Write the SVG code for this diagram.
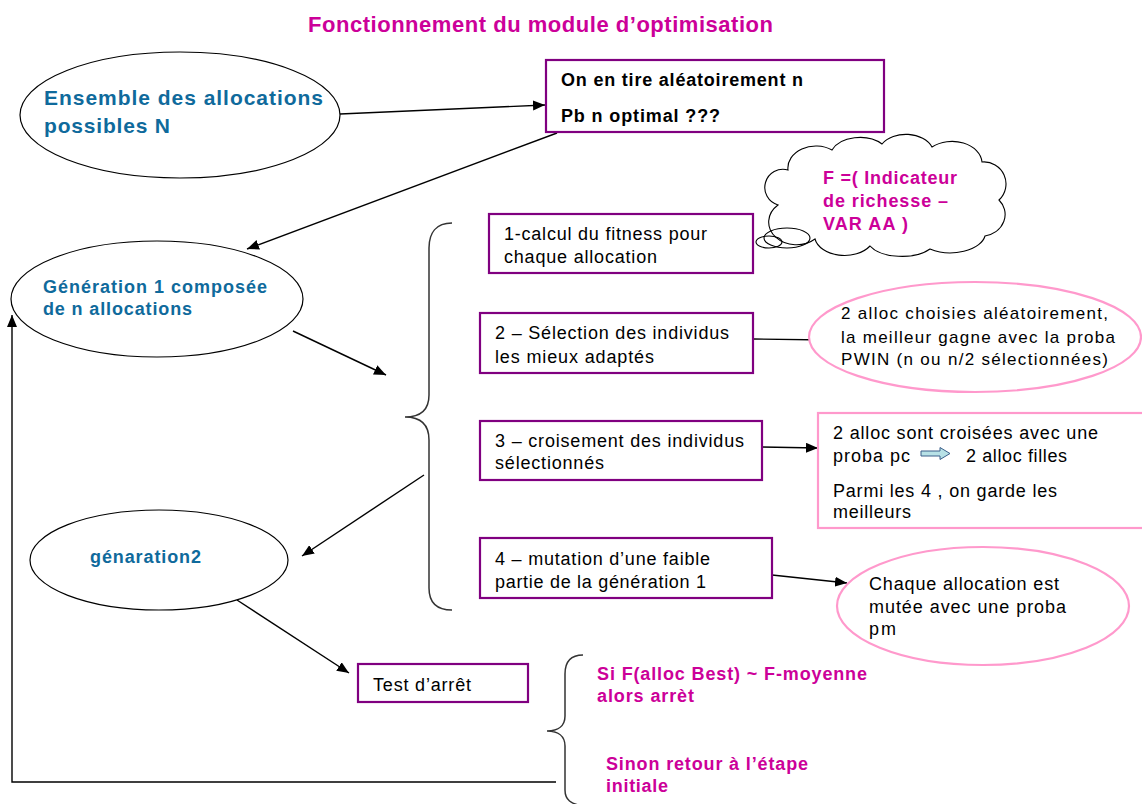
<svg xmlns="http://www.w3.org/2000/svg" width="1142" height="804" viewBox="0 0 1142 804">
<defs>
<marker id="ah" viewBox="0 0 12 10" refX="12" refY="5" markerWidth="12" markerHeight="10" markerUnits="userSpaceOnUse" orient="auto">
<path d="M0,0 L12,5 L0,10 Z" fill="#000"/>
</marker>
</defs>
<style>
.t{font-family:"Liberation Sans",Arial,sans-serif;}
.blue{fill:#0F6A9C;font-weight:bold;}
.mag{fill:#CC0099;font-weight:bold;}
.blk{fill:#000;font-size:18px;}
.sel{fill:#000;font-size:17px;}
.bb{fill:#000;font-size:18px;font-weight:bold;}
.ell{fill:#fff;stroke:#000;stroke-width:1.2;}
.pbox{fill:#fff;stroke:#800080;stroke-width:2.2;}
.pink{fill:#fff;stroke:#FF99CC;stroke-width:2.2;}
.con{fill:none;stroke:#000;stroke-width:1.4;}
.brace{fill:none;stroke:#333;stroke-width:1.5;}
</style>
<rect width="1142" height="804" fill="#fff"/>
<text class="t mag" x="308" y="32" font-size="22" textLength="465" lengthAdjust="spacing">Fonctionnement du module d’optimisation</text>

<g id="connectors">
<path class="con" d="M340,114 L545,105" marker-end="url(#ah)"/>
<path class="con" d="M557,133 L247,249" marker-end="url(#ah)"/>
<path class="con" d="M293,331 L386,375" marker-end="url(#ah)"/>
<path class="con" d="M424,475 L302,556" marker-end="url(#ah)"/>
<path class="con" d="M237,600 L349,673" marker-end="url(#ah)"/>
<path class="con" d="M753,339 L827,340" marker-end="url(#ah)"/>
<path class="con" d="M762,447 L818,448" marker-end="url(#ah)"/>
<path class="con" d="M772,575 L847,583" marker-end="url(#ah)"/>
<path class="con" d="M556,782 L12,782 L12,315" marker-end="url(#ah)"/>
</g>

<g id="braces">
<path class="brace" d="M452,223 C436,223 429,233 429,248 L429,395 C429,410 420,417 405,417 C420,417 429,424 429,440 L429,588 C429,602 436,610 452,610"/>
<path class="brace" d="M583,655 C571,655 565,662 565,674 L565,716 C565,726 558,731 547,731 C558,731 565,736 565,746 L565,790 C565,800 571,804 583,806"/>
</g>

<g id="ensemble">
<ellipse class="ell" cx="180" cy="115" rx="160" ry="63"/>
<text class="t blue" font-size="21" x="44" y="105" textLength="279" lengthAdjust="spacing">Ensemble des allocations</text>
<text class="t blue" font-size="21" x="44" y="133" textLength="126" lengthAdjust="spacing">possibles N</text>
</g>

<g id="tirage">
<rect class="pbox" x="546" y="60" width="338" height="72"/>
<text class="t bb" x="561" y="86" textLength="242" lengthAdjust="spacing">On en tire aléatoirement n</text>
<text class="t bb" x="561" y="122" textLength="159" lengthAdjust="spacing">Pb n optimal ???</text>
</g>

<g id="cloud">
<path fill="#fff" stroke="#000" stroke-width="1.1" d="M778,205 A18,18 0 0 1 788,170 A28,22 0 0 1 832,150 A30,20 0 0 1 882,144 A28,20 0 0 1 932,147 A30,22 0 0 1 982,162 A22,22 0 0 1 999,200 A25,22 0 0 1 985,236 A35,20 0 0 1 930,249 A35,18 0 0 1 870,246 A30,20 0 0 1 815,239 A22,18 0 0 1 778,205 Z"/>
<ellipse fill="none" stroke="#000" stroke-width="1.1" cx="787" cy="238" rx="23" ry="10"/>
<ellipse fill="none" stroke="#000" stroke-width="1.1" cx="769" cy="242" rx="13" ry="6"/>
<text class="t mag" font-size="18" x="823" y="184" textLength="134" lengthAdjust="spacing">F =( Indicateur</text>
<text class="t mag" font-size="18" x="823" y="207" textLength="125" lengthAdjust="spacing">de richesse –</text>
<text class="t mag" font-size="18" x="823" y="230" textLength="85" lengthAdjust="spacing">VAR AA )</text>
</g>

<g id="gen1">
<ellipse class="ell" cx="157" cy="299" rx="146" ry="58"/>
<text class="t blue" font-size="18" x="43" y="293" textLength="224" lengthAdjust="spacing">Génération 1 composée</text>
<text class="t blue" font-size="18" x="43" y="315" textLength="149" lengthAdjust="spacing">de n allocations</text>
</g>

<g id="step1">
<rect class="pbox" x="489" y="214" width="264" height="59"/>
<text class="t blk" x="504" y="240" textLength="203" lengthAdjust="spacing">1-calcul du fitness pour</text>
<text class="t blk" x="504" y="263" textLength="153" lengthAdjust="spacing">chaque allocation</text>
</g>

<g id="step2">
<rect class="pbox" x="480" y="313" width="273" height="60"/>
<text class="t blk" x="495" y="339" textLength="234" lengthAdjust="spacing">2 – Sélection des individus</text>
<text class="t blk" x="495" y="363" textLength="159" lengthAdjust="spacing">les mieux adaptés</text>
</g>

<g id="step3">
<rect class="pbox" x="480" y="421" width="282" height="59"/>
<text class="t blk" x="495" y="447" textLength="249" lengthAdjust="spacing">3 – croisement des individus</text>
<text class="t blk" x="495" y="469" textLength="109" lengthAdjust="spacing">sélectionnés</text>
</g>

<g id="step4">
<rect class="pbox" x="480" y="538" width="292" height="60"/>
<text class="t blk" x="495" y="565" textLength="215" lengthAdjust="spacing">4 – mutation d’une faible</text>
<text class="t blk" x="495" y="588" textLength="211" lengthAdjust="spacing">partie de la génération 1</text>
</g>

<g id="selection">
<ellipse class="pink" cx="975" cy="337" rx="166" ry="55"/>
<text class="t sel" x="841" y="319" textLength="267" lengthAdjust="spacing">2 alloc choisies aléatoirement,</text>
<text class="t sel" x="841" y="343" textLength="274" lengthAdjust="spacing">la meilleur gagne avec la proba</text>
<text class="t sel" x="841" y="365" textLength="267" lengthAdjust="spacing">PWIN (n ou n/2 sélectionnées)</text>
</g>

<g id="croisement">
<rect class="pink" x="818" y="413" width="330" height="115"/>
<text class="t blk" x="833" y="439" textLength="265" lengthAdjust="spacing">2 alloc sont croisées avec une</text>
<text class="t blk" x="833" y="462" textLength="77" lengthAdjust="spacing">proba pc</text>
<path d="M921,451 L940,451 L940,447.5 L950,453.5 L940,459.5 L940,456 L921,456 Z" fill="#B7E1E6" stroke="#3A5F8A" stroke-width="1"/>
<text class="t blk" x="966" y="462" textLength="101" lengthAdjust="spacing">2 alloc filles</text>
<text class="t blk" x="833" y="497" textLength="224" lengthAdjust="spacing">Parmi les 4 , on garde les</text>
<text class="t blk" x="833" y="518" textLength="78" lengthAdjust="spacing">meilleurs</text>
</g>

<g id="mutation">
<ellipse class="pink" cx="983" cy="606" rx="146" ry="59"/>
<text class="t blk" x="869" y="590" textLength="190" lengthAdjust="spacing">Chaque allocation est</text>
<text class="t blk" x="869" y="613" textLength="197" lengthAdjust="spacing">mutée avec une proba</text>
<text class="t blk" x="869" y="635" textLength="27" lengthAdjust="spacing">pm</text>
</g>

<g id="gen2">
<ellipse class="ell" cx="159" cy="560" rx="129" ry="50"/>
<text class="t blue" font-size="18" x="90" y="563" textLength="111" lengthAdjust="spacing">génaration2</text>
</g>

<g id="test">
<rect class="pbox" x="358" y="664" width="170" height="38"/>
<text class="t blk" x="373" y="691" textLength="98" lengthAdjust="spacing">Test d’arrêt</text>
</g>

<g id="conditions">
<text class="t mag" font-size="18" x="597" y="680" textLength="270" lengthAdjust="spacing">Si F(alloc Best) ~ F-moyenne</text>
<text class="t mag" font-size="18" x="597" y="702" textLength="97" lengthAdjust="spacing">alors arrèt</text>
<text class="t mag" font-size="18" x="606" y="770" textLength="202" lengthAdjust="spacing">Sinon retour à l’étape</text>
<text class="t mag" font-size="18" x="606" y="792" textLength="62" lengthAdjust="spacing">initiale</text>
</g>
</svg>
